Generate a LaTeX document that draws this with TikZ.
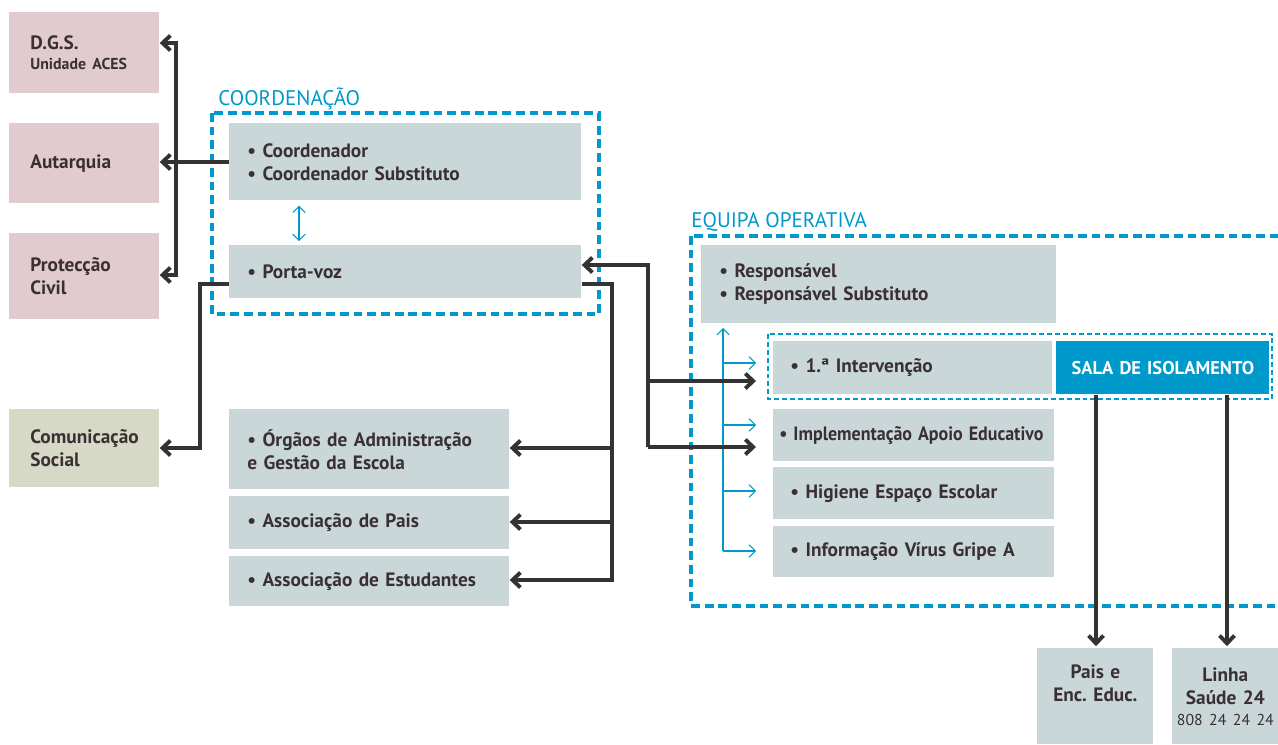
\documentclass[tikz,border=0pt]{standalone}
\usepackage{fontspec}
\setmainfont{PT Sans}
\usepackage{graphicx}
\usetikzlibrary{arrows.meta}
\definecolor{rosa}{HTML}{E1CBCE}
\definecolor{verde}{HTML}{D6D9C5}
\definecolor{cinza}{HTML}{C9D7D8}
\definecolor{azul}{HTML}{0099CC}
\definecolor{escuro}{HTML}{333333}
\definecolor{letra}{HTML}{3A3034}
\frenchspacing

\begin{document}
\begin{tikzpicture}[x=0.02cm,y=-0.02cm,
  every node/.style={font=\bfseries\fontsize{11}{13}\selectfont,text=letra},
  wh/.style n args={3}{text width=(#1-2*#3)*0.02cm,inner xsep=#3*0.02cm,
    inner ysep=0pt,minimum height=#2*0.02cm},
  entity/.style={anchor=north west,align=left},
  unit/.style={entity,fill=cinza},
  title/.style={anchor=base west,inner sep=0pt,text=azul,
    font=\mdseries\fontsize{12}{14}\selectfont},
  frame/.style={draw=azul,line width=1.9pt,dash pattern=on 5pt off 2.8pt},
  subframe/.style={draw=azul,line width=0.6pt,dash pattern=on 2.8pt off 1.7pt},
  heavy/.style={draw=escuro,line width=2.2pt,-{Straight Barb[length=4.5pt,width=8.5pt]}},
  thin/.style={draw=azul,line width=0.6pt,-{Straight Barb[length=3.5pt,width=7pt]}}]
\clip (0,0) rectangle (1278,744);

% outside partners
\node[entity,fill=rosa,wh={150}{81}{21}] (dgs) at (9,12)
  {D.G.S.\\[-2pt]{\fontsize{9}{10}\selectfont Unidade ACES}};
\node[entity,fill=rosa,wh={150}{80}{21}] (autarquia) at (9,123) {Autarquia};
\node[entity,fill=rosa,wh={150}{86}{21}] (proteccao) at (9,233) {Protecção\\Civil};
\node[entity,fill=verde,wh={150}{78}{21}] (comunic) at (9,409) {Comunicação\\Social};

% coordenacao
\draw[frame] (212,113) rectangle (599,314);
\node[title] (tcoord) at (218,105) {COORDENAÇÃO};
\node[unit,wh={352}{77}{18}] (coord) at (229,123) {• Coordenador\\• Coordenador Substituto};
\node[unit,wh={352}{53}{18}] (porta) at (229,245) {• Porta-voz};
\draw[draw=azul,line width=0.6pt,{Straight Barb[length=3.5pt,width=7pt]}-{Straight Barb[length=3.5pt,width=7pt]}]
  (coord.south -| 299,0) ++(0,5) -- ([yshift=4*0.02cm]porta.north -| 299,0);

% escola
\node[unit,wh={280}{80}{18}] (orgaos) at (229,409) {• Órgãos de Administração\\e Gestão da Escola};
\node[unit,wh={280}{53}{18}] (apais) at (229,496) {• Associação de Pais};
\node[unit,wh={280}{50}{18}] (aestud) at (229,556) {• Associação de Estudantes};

% equipa operativa
\draw[frame] (691,236) rectangle (1300,606);
\node[title] (tequipa) at (691,227) {EQUIPA OPERATIVA};
\node[unit,wh={355}{78}{18}] (resp) at (701,245) {• Responsável\\• Responsável Substituto};
\draw[subframe] (768,334) rectangle (1272,399);
\node[unit,wh={279}{53}{17}] (interv) at (773,341) {• 1.ª Intervenção};
\node[entity,fill=azul,wh={213}{53}{0},align=center,text=white,
  font=\bfseries\fontsize{10.5}{12}\selectfont] (sala) at (1056,341) {SALA DE ISOLAMENTO};
\node[unit,wh={281}{52}{6}] (implem) at (773,409) {\scalebox{0.93}[1]{• Implementação Apoio Educativo}};
\node[unit,wh={281}{52}{17}] (higiene) at (773,467) {• Higiene Espaço Escolar};
\node[unit,wh={281}{51}{17}] (inform) at (773,526) {• Informação Vírus Gripe A};
\node[unit,wh={116}{96}{0},align=center] (pais) at (1037,648) {Pais e\\Enc. Educ.\\[-1pt]{\fontsize{9}{10}\selectfont\strut}};
\node[unit,wh={106}{96}{0},align=center] (linha) at (1172,648)
  {Linha\\Saúde 24\\[-1pt]{\mdseries\fontsize{9}{10}\selectfont 808 24 24 24}};

% blue tree
\coordinate (tree) at (723,551);
\draw[thin] (tree) -- (723,328);
\foreach \y/\n in {363/interv,425/implem,491/higiene,551/inform}
  \draw[thin] (723,\y) -- ([xshift=-17*0.02cm]\n.west |- 0,\y);

% connectors
\coordinate (lbus) at (176,162);
\draw[heavy] (coord.west |- lbus) -- (autarquia.east |- lbus);
\draw[heavy] (lbus) |- (dgs.east |- 0,43);
\draw[heavy] (lbus) |- (proteccao.east |- 0,275);
\draw[heavy] (porta.west |- 0,284) -- (200,284) |- (comunic.east |- 0,448);
\coordinate (rbus) at (612,284);
\draw[heavy] (porta.east |- rbus) -| (rbus |- 0,448) -- (orgaos.east |- 0,448);
\draw[heavy] (rbus |- 0,448) |- (apais.east |- 0,522);
\draw[heavy] (rbus |- 0,522) |- (aestud.east |- 0,580);
\coordinate (ebus) at (648,447);
\draw[heavy] (ebus) |- (porta.east |- 0,265);
\draw[heavy] (ebus |- 0,381) -- ([xshift=-17*0.02cm]interv.west |- 0,381);
\draw[heavy] (ebus) -- ([xshift=-17*0.02cm]implem.west |- ebus);
\draw[heavy] (sala.south -| 1096,0) -- ([yshift=1pt]pais.north -| 1096,0);
\draw[heavy] (sala.south -| 1227,0) -- ([yshift=1pt]linha.north -| 1227,0);
\end{tikzpicture}
\end{document}
